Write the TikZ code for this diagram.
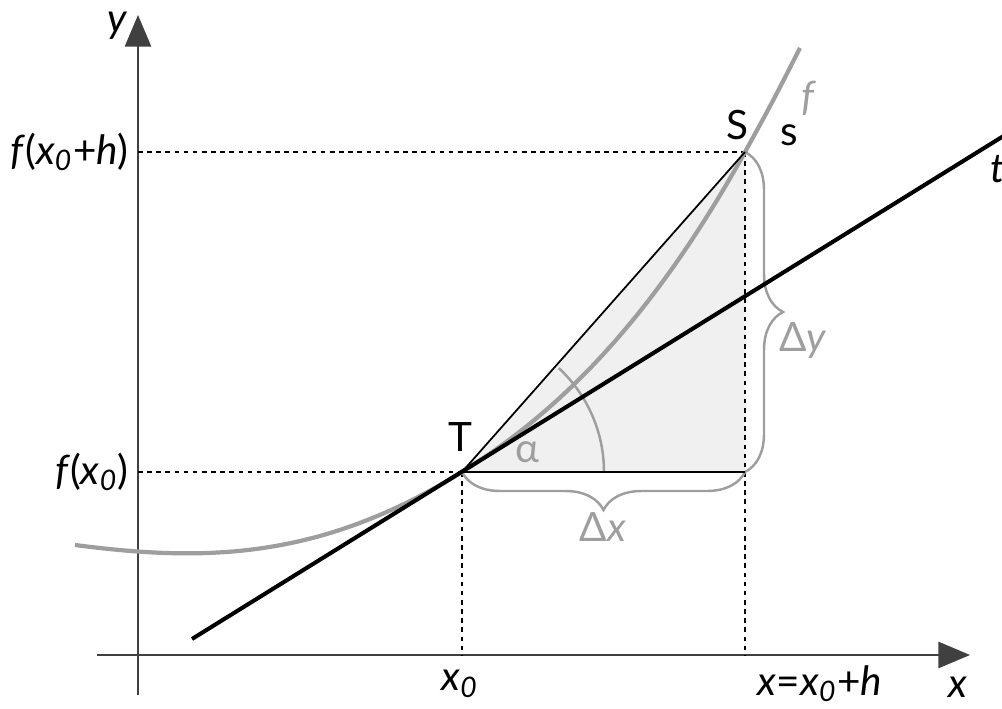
\documentclass[tikz,border=0pt]{standalone}
\usepackage{fontspec}
\setmainfont{Lato}
\usetikzlibrary{arrows.meta, decorations.pathreplacing}
\newcommand{\xnull}{\textit{x}\textsubscript{\textit{0}}}

\begin{document}
\begin{tikzpicture}[x=0.01cm,y=0.01cm,>={Triangle[length=9pt,width=7.5pt]}]
\useasboundingbox (0,0) rectangle (1002,709);

% Colors
\definecolor{curvegray}{gray}{0.62}
\definecolor{shadegray}{gray}{0.94}
\definecolor{axisgray}{gray}{0.25}

\tikzset{
  lbl/.style={font=\fontsize{11.5}{13}\selectfont, inner sep=1pt},
  guide/.style={line width=0.35pt, dash pattern=on 1.3pt off 1.3pt},
  bracegray/.style={decorate, decoration={brace, amplitude=0.38cm}, curvegray, line width=0.7pt}
}

% Points
\coordinate (O) at (138,54);
\coordinate (T) at (462,237);
\coordinate (S) at (745,557);
\coordinate (C) at (745,237);
\coordinate (fA) at (75,164);
\coordinate (fB) at (800,661);
\coordinate (tA) at (192,70);
\coordinate (tB) at (1010,577);

% Shaded triangle
\fill[shadegray] (T) -- (C) -- (S) -- cycle;

% Axes
\draw[axisgray, line width=0.45pt, ->] (138,14) -- (138,694);
\draw[axisgray, line width=0.45pt, ->] (97,54) -- (970,54);

% Guide lines
\draw[guide] (O |- T) -- (T);
\draw[guide] (O |- S) -- (S);
\draw[guide] (T) -- (T |- O);
\draw[guide] (S) -- (S |- O);

% Braces and angle
\draw[bracegray] (S) -- (C);
\draw[bracegray] (C) -- (T);
\draw[curvegray, line width=0.7pt] (T) ++(142,0) arc[start angle=0, end angle=47, radius=142];

% Curve f
\draw[curvegray, line width=1.2pt] (fA) .. controls (205,147) and (320,149) .. (T)
  .. controls (557,296) and (650,386) .. (S) .. controls (772,606) .. (fB);

% Secant, tangent, delta x side
\draw[line width=0.5pt] (T) -- (S);
\draw[line width=0.5pt] (T) -- (C);
\draw[line width=1.15pt] (tA) -- (tB);

% Labels
\node[lbl] at (118,683) {\textit{y}};
\node[lbl] at (958,22) {\textit{x}};
\node[lbl, anchor=east] at (133,557) {\textit{f}(\xnull+\textit{h})};
\node[lbl, anchor=east] at (133,237) {\textit{f}(\xnull)};
\node[lbl] at (460,25) {\xnull};
\node[lbl] at (820,25) {\textit{x}=\xnull+\textit{h}};
\node[lbl] at (460,272) {T};
\node[lbl] at (737,584) {S};
\node[lbl] at (789,574) {s};
\node[lbl, curvegray] at (809,611) {\textit{f}};
\node[lbl] at (998,540) {\textit{t}};
\node[lbl, curvegray] at (527,257) {α};
\node[lbl, curvegray] at (603,182) {Δ\textit{x}};
\node[lbl, curvegray] at (803,369) {Δ\textit{y}};

\end{tikzpicture}
\end{document}
